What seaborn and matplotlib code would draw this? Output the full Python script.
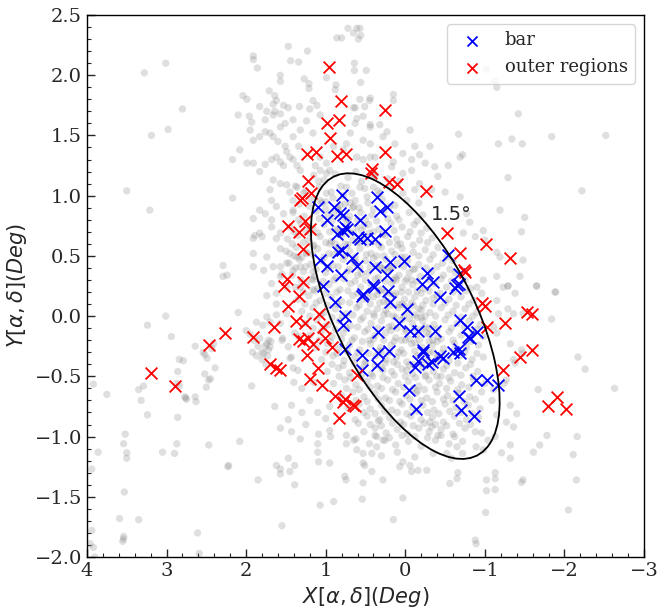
import numpy as np
import pandas as pd
import matplotlib
matplotlib.use("Agg")
import matplotlib.pyplot as plt
from matplotlib.patches import Ellipse
from matplotlib.ticker import MultipleLocator
import seaborn as sns

# ---------------- data (degrees) ----------------
bar_pts = [
    (0.80, 1.005), (0.36, 0.99), (1.10, 0.91), (0.90, 0.905), (0.82, 0.86), (0.78, 0.84),
    (0.23, 0.91), (0.32, 0.87), (0.99, 0.80), (0.76, 0.74), (0.73, 0.72), (0.78, 0.71),
    (0.57, 0.80), (0.86, 0.68), (0.59, 0.66), (0.57, 0.64), (0.48, 0.65), (0.38, 0.64),
    (0.26, 0.71), (0.85, 0.53), (0.80, 0.55), (0.67, 0.48), (1.07, 0.465), (0.99, 0.42),
    (0.61, 0.42), (0.38, 0.41), (0.19, 0.45), (0.81, 0.34), (0.23, 0.34), (1.03, 0.25),
    (0.40, 0.26), (0.39, 0.24), (0.22, 0.21), (0.55, 0.17), (0.53, 0.18), (0.88, 0.12),
    (0.19, 0.12), (0.02, 0.46), (-0.54, 0.51), (-0.27, 0.36), (-0.21, 0.27), (-0.35, 0.28),
    (-0.67, 0.35), (-0.65, 0.26), (-0.62, 0.23), (-0.67, 0.27), (-0.43, 0.16), (-0.02, 0.06),
    (0.08, -0.06), (0.34, -0.13), (-0.06, -0.12), (-0.16, -0.12), (-0.37, -0.12), (-0.69, -0.03),
    (-0.77, -0.09), (-0.90, -0.13), (-0.81, -0.18), (-0.79, -0.17), (-0.22, -0.28), (-0.22, -0.30),
    (-0.16, -0.37), (-0.12, -0.42), (-0.29, -0.40), (-0.33, -0.38), (-0.48, -0.35), (-0.44, -0.33),
    (-0.60, -0.30), (-0.67, -0.27), (-0.69, -0.31), (-0.89, -0.53), (-1.03, -0.53), (-1.16, -0.57),
    (-0.05, -0.61), (-0.67, -0.66), (-0.13, -0.77), (-0.70, -0.78), (-0.86, -0.83), (0.21, -0.29),
    (0.34, -0.31), (0.36, -0.41), (0.54, -0.32), (0.54, -0.45), (0.76, 0.0), (0.78, -0.075),
    (0.76, -0.27),
]

outer_pts = [
    (0.96, 2.07), (0.81, 1.79), (0.99, 1.60), (0.83, 1.63), (0.95, 1.48), (1.24, 1.35),
    (1.12, 1.36), (0.86, 1.33), (0.74, 1.35), (0.42, 1.22), (0.43, 1.19), (1.22, 1.12),
    (1.18, 1.02), (1.32, 0.96), (1.30, 0.98), (1.26, 0.79), (1.48, 0.75), (1.34, 0.70),
    (1.20, 0.72), (1.29, 0.56), (1.49, 0.305), (1.52, 0.25), (1.28, 0.285), (1.33, 0.17),
    (0.26, 1.71), (0.255, 1.36), (0.20, 1.11), (0.11, 1.10), (-0.26, 1.04), (-0.53, 0.69),
    (-0.69, 0.52), (-1.02, 0.60), (-1.31, 0.48), (-0.74, 0.385), (-0.75, 0.37), (-0.96, 0.105),
    (-1.00, 0.08), (-1.03, -0.09), (-1.25, -0.06), (-1.53, 0.036), (-1.59, 0.02), (-1.59, -0.28),
    (-1.44, -0.34), (-1.23, -0.45), (0.63, -0.75), (0.66, -0.74), (0.61, -0.49), (-1.79, -0.75),
    (-1.91, -0.675), (-2.02, -0.77), (1.48, 0.08), (1.09, 0.02), (1.37, -0.04), (1.26, -0.06),
    (1.65, -0.09), (2.27, -0.14), (1.92, -0.17), (2.47, -0.24), (1.03, -0.09), (1.34, -0.19),
    (1.29, -0.21), (1.22, -0.18), (1.16, -0.23), (1.01, -0.18), (0.92, -0.26), (1.23, -0.32),
    (3.20, -0.47), (2.89, -0.58), (1.70, -0.40), (1.62, -0.43), (1.58, -0.45), (1.10, -0.43),
    (1.20, -0.52), (1.05, -0.57), (0.88, -0.66), (0.78, -0.71), (0.76, -0.69), (0.83, -0.85),
]

# sparse field stars (individually readable)
field_sparse = [
    (3.28, 2.02), (3.01, 2.10), (2.80, 1.72), (2.98, 1.55), (3.19, 1.50), (3.50, 1.04), (3.21, 0.88),
    (2.17, 0.98), (2.17, 1.30), (1.47, 2.24), (1.23, 2.20), (1.91, 2.16), (1.91, 2.13), (1.86, 2.06),
    (1.44, 2.12), (1.34, 2.11), (1.57, 2.00), (1.57, 1.95), (1.27, 1.97), (1.21, 1.93), (1.21, 1.89),
    (0.87, 1.92), (0.88, 1.88), (0.99, 1.98), (0.72, 2.39), (0.61, 2.39), (0.57, 2.39), (0.65, 2.35),
    (0.56, 2.33), (0.59, 2.30), (0.86, 2.31), (0.80, 2.31), (0.64, 2.10), (0.64, 2.04), (0.49, 2.04),
    (0.56, 1.94), (0.44, 1.81), (0.57, 1.80), (0.65, 1.73), (2.04, 1.83), (1.99, 1.80), (2.10, 1.67),
    (1.96, 1.66), (1.93, 1.61), (1.83, 1.74), (1.71, 1.87), (1.64, 1.83), (1.62, 1.79), (1.53, 1.75),
    (1.74, 1.70), (1.66, 1.76), (1.64, 1.70), (1.57, 1.68), (1.47, 1.73), (1.76, 1.63), (1.66, 1.67),
    (1.51, 1.60), (1.41, 1.63), (1.33, 1.74), (1.20, 1.72), (1.16, 1.79), (1.11, 1.75), (1.07, 1.67),
    (1.24, 1.62), (1.32, 1.545), (1.16, 1.52), (1.95, 1.545), (1.83, 1.49), (1.91, 1.46), (1.76, 1.53),
    (1.70, 1.52), (1.66, 1.49), (1.57, 1.57), (1.60, 1.45), (1.51, 1.41), (1.41, 1.49), (1.34, 1.41),
    (1.49, 1.365), (1.45, 1.32), (2.08, 1.38), (1.99, 1.27), (1.91, 1.27), (1.83, 1.20), (1.76, 1.26),
    (1.68, 1.30), (1.62, 1.32), (1.57, 1.28), (1.53, 1.25), (1.41, 1.30), (1.36, 1.25), (1.32, 1.21),
    (1.13, 1.25), (1.07, 1.21), (0.99, 1.27), (1.07, 1.32), (0.90, 1.41), (0.74, 1.43), (0.78, 1.38),
    (0.61, 1.32), (0.53, 1.30), (0.44, 1.32), (0.63, 1.60), (0.44, 1.57), (0.69, 1.52), (0.53, 1.46),
    (1.66, 1.13), (1.57, 1.10), (1.70, 1.05), (1.49, 1.09), (1.45, 1.03), (1.68, 0.96), (1.62, 0.91),
    (1.76, 0.85), (1.68, 0.80), (1.83, 0.88), (1.91, 0.81), (1.83, 0.69), (1.91, 0.645), (1.89, 0.67),
    (1.68, 0.74), (1.57, 0.69), (1.62, 0.645), (1.53, 0.85), (1.41, 0.88), (1.36, 1.07), (1.28, 1.02),
    (1.41, 0.96), (1.07, 0.96), (0.99, 1.02), (1.09, 1.12), (0.99, 1.185), (0.74, 1.07), (0.69, 0.94),
    (0.65, 0.91), (0.57, 1.07), (0.48, 0.99), (0.40, 1.16), (0.40, 1.07), (0.32, 1.02), (1.57, 0.56),
    (1.45, 0.52), (1.49, 0.44), (1.74, 0.49), (1.66, 0.41), (1.91, 0.52), (1.80, 0.66), (1.91, 0.41),
    (1.78, 0.38), (1.57, 0.33), (1.49, 0.24), (1.68, 0.27), (1.62, 0.19), (1.74, 0.17), (1.41, 0.38),
    (1.32, 0.41), (1.36, 0.49), (1.24, 0.52), (1.16, 0.58), (1.20, 0.69), (2.29, 0.42), (2.24, 0.34),
    (2.29, 0.33), (1.57, 0.41), (1.32, 0.24), (1.16, 0.22), (1.16, 0.37), (1.16, 0.30),
    (-1.02, 2.05), (-1.13, 1.95), (-1.15, 1.90), (0.15, 1.84), (-1.42, 1.68), (-0.67, 1.51),
    (-1.84, 1.49), (-2.52, 1.50), (-1.17, 1.43), (-1.34, 1.47), (-1.47, 1.43), (-0.69, 1.32),
    (-0.72, 1.34), (-0.54, 1.25), (-0.31, 1.41), (-0.12, 1.41), (-0.18, 1.34), (-0.08, 1.30),
    (0.15, 1.28), (0.17, 1.24), (0.03, 1.185), (-0.08, 1.21), (-0.25, 1.27), (-0.37, 1.24),
    (-0.41, 1.16), (-0.18, 1.10), (-0.33, 1.05), (-0.50, 1.03), (-0.69, 0.99), (-1.29, 1.15),
    (-2.22, 1.04), (-1.19, 0.88), (-1.50, 0.82), (-1.46, 0.70), (-0.77, 0.85), (-0.81, 0.78),
    (-0.73, 0.69), (-0.88, 0.66), (-0.98, 0.71), (-1.00, 0.63), (-1.15, 0.53), (-1.19, 0.49),
    (-1.48, 0.465), (-1.65, 0.25), (-1.89, 0.20), (-1.15, 0.33), (-1.29, 0.25), (-1.44, 0.33),
    (-0.98, 0.30), (-0.90, 0.24), (-0.96, 0.19), (0.13, 1.43), (0.28, 1.49), (0.44, 1.43),
    (0.38, 1.32), (0.44, 1.59), (0.32, 1.59), (0.61, 1.64), (0.53, 1.66), (0.63, 1.73),
    (0.51, 1.74), (0.45, 1.79), (0.15, 1.79), (-0.06, 1.545), (0.23, 1.53), (0.03, 1.35),
    (3.92, -0.565), (3.75, -0.65), (3.35, -0.61), (3.29, -0.58), (3.32, -0.70), (3.24, -0.82),
    (3.01, 0.0), (3.24, -0.075), (2.94, -0.17), (2.64, -0.25), (2.84, -0.36), (2.79, -0.37),
    (2.86, -0.46), (2.87, -0.56), (2.84, -0.58), (2.77, -0.67), (2.75, -0.69), (2.76, -0.68),
    (2.64, -0.67), (2.63, -0.71), (2.86, -0.84), (2.54, -0.30), (2.49, -0.35), (2.52, -0.32),
    (2.41, -0.23), (2.43, -0.27), (2.52, -0.48), (2.45, -0.52), (2.47, -0.53), (2.50, -0.59),
    (2.39, -0.43), (2.10, 0.03), (1.93, -0.58), (1.87, -0.33), (1.80, -0.30), (1.76, -0.25),
    (1.74, -0.23), (1.72, -0.28), (1.70, -0.255), (1.69, -0.21), (1.79, -0.075), (1.74, -0.006),
    (1.87, -0.05), (1.62, 0.01), (1.49, 0.02), (1.57, -0.06), (1.83, -0.185), (1.54, -0.185),
    (1.47, -0.255), (1.39, -0.14), (1.34, -0.17), (1.43, -0.34), (1.41, -0.43), (1.64, -0.75),
    (1.43, -0.74), (1.47, -0.86), (1.57, -0.93), (1.43, -0.96), (1.32, -1.02), (1.09, -0.98),
    (1.10, -1.06), (0.95, -0.95), (0.94, -1.00), (0.74, -0.99), (0.74, -1.06), (0.62, -1.02),
    (2.08, -1.04), (2.47, -1.07), (2.87, -1.06), (2.90, -1.14), (3.05, -1.13), (3.52, -0.98),
    (3.54, -1.06), (3.50, -1.135), (3.50, -1.18), (3.86, -1.13), (3.94, -1.27), (2.23, -1.25),
    (2.22, -1.24), (1.85, -1.36), (1.57, -1.27), (1.57, -1.31), (1.62, -1.24), (1.47, -1.18),
    (1.39, -1.24), (1.45, -1.29), (1.39, -1.40), (1.09, -1.21), (1.10, -1.13), (1.07, -1.57),
    (0.90, -1.54), (0.95, -1.22), (0.76, -1.33), (0.745, -1.36), (0.53, -1.22), (0.51, -1.24),
    (0.53, -1.385), (0.54, -1.52), (3.53, -1.46), (3.59, -1.68), (3.35, -1.69), (3.54, -1.83),
    (3.55, -1.87), (3.54, -1.85), (3.94, -1.78), (3.96, -1.89), (3.92, -1.92), (3.90, -2.00),
    (2.61, -1.80), (2.59, -1.97), (1.55, -1.74),
    (-1.65, 0.25), (-1.88, 0.20), (-1.84, -0.025), (-2.17, -0.34), (-2.26, -0.44), (-2.63, -0.60),
    (-1.67, -0.61), (-1.78, -0.99), (-1.69, -1.07), (-1.61, -1.13), (-2.16, -1.00), (-2.11, -1.15),
    (-2.15, -1.36), (-2.05, -1.61), (-1.48, -1.36), (-1.46, -1.38), (-1.32, -1.07), (-1.32, -1.18),
    (-1.21, -1.135), (-1.13, -1.30), (-1.13, -1.35), (-1.13, -1.44), (-1.02, -1.36), (-1.02, -1.45),
    (-1.01, -1.63), (-0.88, -1.86), (-0.89, -1.89), (-0.66, -1.30), (-0.65, -1.35), (-0.56, -1.39),
    (0.03, -1.51), (0.15, -1.69), (-0.08, -1.29), (-0.06, -1.24), (-0.16, -1.28), (-0.27, -1.28),
    (0.07, -1.25), (0.03, -1.21), (0.28, -1.36), (0.42, -1.29), (0.53, -1.14), (0.42, -1.14),
    (0.36, -1.085), (0.65, -1.03), (0.61, -1.11), (0.38, -0.99), (0.255, -1.03), (0.59, -0.89),
    (0.32, -0.86), (-0.33, -0.92), (-0.31, -0.88), (-0.41, -0.99), (-1.04, -1.03), (-1.13, -1.00),
    (-1.32, -0.74), (-1.40, -0.81), (-1.27, -0.88), (-1.36, -0.92), (-0.89, -1.085), (-0.98, -1.11),
    (-0.65, -1.085), (-0.72, -1.14), (-0.52, -1.14), (-0.96, -0.97), (-1.15, -0.82), (-1.09, -0.70),
    (-1.11, -0.61), (-1.24, -0.56), (-1.27, -0.53), (-1.36, -0.36), (-1.38, -0.39), (-1.32, -0.23),
    (-1.48, 0.02), (-1.29, 0.06), (-1.36, 0.02), (-1.23, 0.24), (-1.29, 0.25), (-1.38, 0.19),
    (-1.15, 0.13), (-1.17, 0.02), (-1.46, -0.28), (-1.47, -0.31), (-1.11, -0.09), (-1.15, -0.14),
    (1.95, -0.15), (1.90, -0.20), (1.85, -0.25), (1.80, -0.36), (1.75, -0.40), (1.72, -0.20),
    (2.00, -0.12), (1.92, -0.30), (1.78, -0.31), (1.73, -0.33),
    (1.55, 0.35), (1.62, 0.10), (1.70, -0.05), (1.55, -0.20), (1.45, -0.35), (1.35, -0.45),
    (1.30, -0.60), (1.20, -0.70), (1.10, -0.80), (1.00, -0.85), (0.95, -0.75), (1.15, -0.55),
    (1.40, -0.55), (1.30, -0.80), (1.25, -0.90),
]

# dense field stars in the central body (approximate positions read by eye)
field_dense = [
    (1.15, 1.17), (1.02, 1.13), (0.88, 1.18), (0.72, 1.15), (0.55, 1.12), (0.38, 1.17), (0.22, 1.14),
    (0.08, 1.12), (0.95, 1.21), (0.62, 1.20),
    (1.25, 1.04), (1.08, 1.07), (0.93, 1.03), (0.81, 1.08), (0.67, 1.02), (0.51, 1.06), (0.34, 1.04),
    (0.18, 1.07), (0.03, 1.02), (-0.12, 1.05), (1.38, 1.08),
    (1.33, 0.93), (1.19, 0.97), (1.05, 0.94), (0.91, 0.98), (0.76, 0.93), (0.63, 0.96), (0.47, 0.94),
    (0.29, 0.97), (0.13, 0.92), (-0.02, 0.96), (-0.17, 0.94), (0.85, 0.90),
    (1.41, 0.86), (1.27, 0.83), (1.12, 0.87), (0.97, 0.84), (0.84, 0.88), (0.70, 0.83), (0.56, 0.86),
    (0.42, 0.84), (0.27, 0.87), (0.11, 0.83), (-0.05, 0.86), (-0.22, 0.84), (0.60, 0.80),
    (1.45, 0.74), (1.31, 0.77), (1.16, 0.73), (1.02, 0.76), (0.88, 0.72), (0.74, 0.77), (0.61, 0.74),
    (0.46, 0.76), (0.33, 0.72), (0.18, 0.77), (0.04, 0.74), (-0.11, 0.76), (-0.27, 0.73), (0.95, 0.70),
    (1.48, 0.64), (1.35, 0.67), (1.21, 0.63), (1.07, 0.66), (0.93, 0.62), (0.80, 0.67), (0.66, 0.63),
    (0.52, 0.66), (0.39, 0.62), (0.25, 0.67), (0.11, 0.64), (-0.03, 0.66), (-0.18, 0.63), (-0.34, 0.65),
    (0.45, 0.69),
    (1.50, 0.54), (1.37, 0.57), (1.24, 0.53), (1.10, 0.56), (0.96, 0.52), (0.83, 0.57), (0.70, 0.54),
    (0.57, 0.56), (0.43, 0.52), (0.30, 0.57), (0.17, 0.54), (0.04, 0.56), (-0.10, 0.53), (-0.25, 0.55),
    (-0.41, 0.57), (0.36, 0.50), (0.10, 0.59),
    (1.46, 0.44), (1.33, 0.47), (1.19, 0.43), (1.05, 0.46), (0.91, 0.42), (0.78, 0.47), (0.64, 0.44),
    (0.50, 0.46), (0.37, 0.42), (0.24, 0.47), (0.10, 0.44), (-0.03, 0.46), (-0.17, 0.43), (-0.31, 0.47),
    (-0.47, 0.44), (0.30, 0.40), (0.05, 0.49), (-0.60, 0.46),
    (1.42, 0.34), (1.28, 0.37), (1.14, 0.33), (1.00, 0.36), (0.87, 0.32), (0.73, 0.37), (0.60, 0.34),
    (0.47, 0.36), (0.34, 0.32), (0.21, 0.37), (0.08, 0.34), (-0.05, 0.36), (-0.19, 0.33), (-0.33, 0.37),
    (-0.48, 0.34), (-0.63, 0.36), (0.15, 0.30), (-0.10, 0.39),
    (1.38, 0.24), (1.24, 0.27), (1.10, 0.23), (0.96, 0.26), (0.82, 0.22), (0.69, 0.27), (0.56, 0.24),
    (0.43, 0.26), (0.30, 0.22), (0.17, 0.27), (0.04, 0.24), (-0.09, 0.26), (-0.23, 0.23), (-0.37, 0.27),
    (-0.52, 0.24), (-0.68, 0.26), (-0.82, 0.23), (0.25, 0.20), (0.00, 0.29), (-0.15, 0.21),
    (1.35, 0.14), (1.21, 0.17), (1.07, 0.13), (0.93, 0.16), (0.80, 0.12), (0.66, 0.17), (0.53, 0.14),
    (0.40, 0.16), (0.27, 0.12), (0.14, 0.17), (0.01, 0.14), (-0.12, 0.16), (-0.26, 0.13), (-0.40, 0.17),
    (-0.55, 0.14), (-0.70, 0.16), (-0.86, 0.13), (0.08, 0.10), (-0.20, 0.19), (0.20, 0.19),
    (1.30, 0.04), (1.16, 0.07), (1.02, 0.03), (0.88, 0.06), (0.74, 0.02), (0.61, 0.07), (0.48, 0.04),
    (0.35, 0.06), (0.22, 0.02), (0.09, 0.07), (-0.04, 0.04), (-0.17, 0.06), (-0.31, 0.03), (-0.45, 0.07),
    (-0.60, 0.04), (-0.75, 0.06), (-0.90, 0.03), (0.15, 0.00), (-0.10, 0.09), (-0.25, 0.00),
    (1.25, -0.06), (1.11, -0.03), (0.97, -0.07), (0.83, -0.04), (0.69, -0.08), (0.56, -0.03),
    (0.43, -0.06), (0.30, -0.04), (0.17, -0.08), (0.04, -0.03), (-0.09, -0.06), (-0.22, -0.04),
    (-0.36, -0.07), (-0.50, -0.03), (-0.65, -0.06), (-0.80, -0.04), (-0.94, -0.07), (0.10, -0.10),
    (-0.15, -0.01), (-0.30, -0.10),
    (1.20, -0.16), (1.06, -0.13), (0.92, -0.17), (0.78, -0.14), (0.64, -0.18), (0.51, -0.13),
    (0.38, -0.16), (0.25, -0.14), (0.12, -0.18), (-0.01, -0.13), (-0.14, -0.16), (-0.27, -0.14),
    (-0.41, -0.17), (-0.55, -0.13), (-0.70, -0.16), (-0.85, -0.14), (-0.98, -0.17), (0.05, -0.20),
    (-0.20, -0.11), (-0.35, -0.20),
    (1.12, -0.26), (0.98, -0.23), (0.84, -0.27), (0.70, -0.24), (0.57, -0.28), (0.44, -0.23),
    (0.31, -0.26), (0.18, -0.24), (0.05, -0.28), (-0.08, -0.23), (-0.21, -0.26), (-0.34, -0.24),
    (-0.48, -0.27), (-0.62, -0.23), (-0.77, -0.26), (-0.92, -0.24), (-0.25, -0.30), (0.00, -0.20),
    (-0.40, -0.21),
    (1.05, -0.36), (0.91, -0.33), (0.77, -0.37), (0.63, -0.34), (0.50, -0.38), (0.37, -0.33),
    (0.24, -0.36), (0.11, -0.34), (-0.02, -0.38), (-0.15, -0.33), (-0.28, -0.36), (-0.41, -0.34),
    (-0.55, -0.37), (-0.69, -0.33), (-0.84, -0.36), (-0.98, -0.34), (-0.10, -0.40), (-0.35, -0.30),
    (0.98, -0.46), (0.84, -0.43), (0.70, -0.47), (0.56, -0.44), (0.43, -0.48), (0.30, -0.43),
    (0.17, -0.46), (0.04, -0.44), (-0.09, -0.48), (-0.22, -0.43), (-0.35, -0.46), (-0.48, -0.44),
    (-0.62, -0.47), (-0.76, -0.43), (-0.91, -0.46), (-0.45, -0.50),
    (0.90, -0.56), (0.76, -0.53), (0.62, -0.57), (0.48, -0.54), (0.35, -0.58), (0.22, -0.53),
    (0.09, -0.56), (-0.04, -0.54), (-0.17, -0.58), (-0.30, -0.53), (-0.43, -0.56), (-0.57, -0.54),
    (-0.71, -0.57), (-0.86, -0.53), (-1.00, -0.56),
    (0.80, -0.66), (0.66, -0.63), (0.52, -0.67), (0.38, -0.64), (0.25, -0.68), (0.12, -0.63),
    (-0.01, -0.66), (-0.14, -0.64), (-0.27, -0.68), (-0.40, -0.63), (-0.53, -0.66), (-0.67, -0.64),
    (-0.81, -0.67), (-0.96, -0.63),
    (0.72, -0.76), (0.58, -0.73), (0.44, -0.77), (0.30, -0.74), (0.17, -0.78), (0.04, -0.73),
    (-0.09, -0.76), (-0.22, -0.74), (-0.36, -0.78), (-0.50, -0.73), (-0.64, -0.76), (-0.79, -0.74),
    (-0.94, -0.77),
    (0.63, -0.86), (0.48, -0.83), (0.34, -0.87), (0.20, -0.84), (0.06, -0.88), (-0.07, -0.83),
    (-0.20, -0.86), (-0.34, -0.84), (-0.48, -0.88), (-0.62, -0.83), (-0.77, -0.86), (-0.92, -0.84),
    (0.52, -0.96), (0.38, -0.93), (0.24, -0.97), (0.10, -0.94), (-0.03, -0.98), (-0.17, -0.93),
    (-0.30, -0.96), (-0.45, -0.94), (-0.60, -0.98), (-0.75, -0.93), (-0.88, -0.96),
    (0.45, -1.06), (0.28, -1.03), (0.12, -1.07), (-0.04, -1.04), (-0.20, -1.08), (-0.38, -1.03),
    (-0.55, -1.06), (-0.72, -1.04),
    (0.30, -1.16), (0.10, -1.13), (-0.12, -1.17), (-0.35, -1.14), (-0.58, -1.18),
    (0.25, 0.05), (0.18, -0.12), (0.05, 0.20), (-0.05, -0.02), (0.30, -0.30), (0.12, 0.32),
    (-0.12, -0.22), (0.22, 0.12), (0.00, 0.08), (0.35, 0.18), (-0.20, 0.05), (0.08, -0.30),
    (0.28, -0.45), (0.15, -0.38), (-0.02, -0.45), (0.40, 0.02), (0.45, -0.20), (0.20, 0.40),
    (-0.08, 0.30), (0.32, 0.42), (0.60, 0.62), (0.72, 0.80), (0.80, 0.70), (0.66, 0.90),
    (0.85, 0.55), (0.52, 0.75), (0.90, 0.85), (0.75, 0.60), (0.62, 0.45), (0.95, 0.60),
    (1.00, 0.95), (0.78, 1.00), (0.70, 0.70), (0.55, 0.35), (0.48, 0.15), (-0.30, -0.15),
    (-0.40, -0.35), (-0.25, -0.50), (-0.15, -0.62), (-0.35, 0.15),
]

# second layer of the dense body (read between the first layer's positions)
field_core = [
    (1.20, 0.91), (1.00, 0.89), (0.82, 0.92), (0.58, 0.90), (0.40, 0.89), (0.20, 0.91),
    (1.34, 0.80), (1.08, 0.81), (0.92, 0.79), (0.78, 0.82), (0.50, 0.80), (0.36, 0.79),
    (0.22, 0.81), (0.08, 0.80), (-0.15, 0.79),
    (1.40, 0.70), (1.25, 0.71), (1.10, 0.69), (0.85, 0.71), (0.65, 0.69), (0.55, 0.71),
    (0.40, 0.70), (0.28, 0.68), (0.14, 0.71), (-0.06, 0.70), (-0.20, 0.69),
    (1.42, 0.60), (1.28, 0.61), (1.15, 0.59), (1.00, 0.61), (0.88, 0.60), (0.72, 0.59),
    (0.59, 0.61), (0.48, 0.60), (0.33, 0.59), (0.20, 0.61), (0.06, 0.60), (-0.10, 0.59),
    (-0.28, 0.61),
    (1.40, 0.50), (1.30, 0.49), (1.16, 0.51), (1.02, 0.49), (0.90, 0.51), (0.76, 0.50),
    (0.63, 0.49), (0.49, 0.51), (0.40, 0.48), (0.27, 0.50), (0.13, 0.51), (0.00, 0.49),
    (-0.17, 0.50), (-0.35, 0.51), (-0.52, 0.49),
    (1.38, 0.40), (1.25, 0.41), (1.12, 0.39), (0.97, 0.40), (0.84, 0.41), (0.70, 0.39),
    (0.57, 0.40), (0.44, 0.41), (0.27, 0.39), (0.17, 0.40), (0.02, 0.41), (-0.12, 0.39),
    (-0.26, 0.40), (-0.40, 0.41), (-0.56, 0.39),
    (1.31, 0.30), (1.17, 0.31), (1.03, 0.29), (0.90, 0.30), (0.77, 0.31), (0.63, 0.29),
    (0.50, 0.30), (0.38, 0.31), (0.25, 0.29), (0.11, 0.30), (-0.02, 0.31), (-0.15, 0.29),
    (-0.30, 0.30), (-0.45, 0.31), (-0.58, 0.29), (-0.75, 0.30),
    (1.28, 0.20), (1.14, 0.21), (1.00, 0.19), (0.86, 0.20), (0.72, 0.21), (0.60, 0.19),
    (0.46, 0.20), (0.33, 0.21), (0.12, 0.19), (-0.04, 0.20), (-0.30, 0.21), (-0.44, 0.19),
    (-0.60, 0.20), (-0.76, 0.21),
    (1.26, 0.10), (1.12, 0.11), (0.98, 0.09), (0.85, 0.10), (0.70, 0.11), (0.58, 0.09),
    (0.44, 0.10), (0.32, 0.11), (0.18, 0.09), (0.04, 0.10), (-0.08, 0.11), (-0.22, 0.09),
    (-0.35, 0.10), (-0.50, 0.11), (-0.64, 0.09), (-0.80, 0.10),
    (1.20, 0.00), (1.06, 0.01), (0.92, -0.01), (0.79, 0.00), (0.66, 0.01), (0.53, -0.01),
    (0.39, 0.00), (0.27, 0.01), (0.12, -0.01), (0.02, 0.00), (-0.12, 0.01), (-0.20, -0.01),
    (-0.38, 0.00), (-0.54, 0.01), (-0.70, -0.01), (-0.85, 0.00),
    (1.16, -0.10), (1.02, -0.09), (0.88, -0.11), (0.74, -0.10), (0.60, -0.09), (0.47, -0.11),
    (0.34, -0.10), (0.21, -0.09), (0.00, -0.11), (-0.12, -0.10), (-0.25, -0.09), (-0.40, -0.11),
    (-0.58, -0.10), (-0.74, -0.09), (-0.90, -0.11),
    (1.08, -0.20), (0.94, -0.21), (0.80, -0.19), (0.67, -0.20), (0.54, -0.21), (0.40, -0.19),
    (0.27, -0.20), (0.14, -0.21), (-0.05, -0.19), (-0.18, -0.20), (-0.30, -0.21), (-0.45, -0.19),
    (-0.60, -0.20), (-0.82, -0.21),
    (1.00, -0.30), (0.86, -0.31), (0.73, -0.29), (0.60, -0.30), (0.46, -0.31), (0.33, -0.29),
    (0.20, -0.30), (0.02, -0.31), (-0.12, -0.29), (-0.30, -0.30), (-0.46, -0.31), (-0.60, -0.29),
    (-0.75, -0.30), (-0.90, -0.31),
    (0.92, -0.40), (0.78, -0.41), (0.64, -0.39), (0.51, -0.40), (0.38, -0.41), (0.25, -0.39),
    (0.10, -0.40), (-0.05, -0.41), (-0.20, -0.39), (-0.38, -0.40), (-0.52, -0.41), (-0.66, -0.39),
    (-0.82, -0.40),
    (0.83, -0.50), (0.69, -0.51), (0.55, -0.49), (0.41, -0.50), (0.28, -0.51), (0.14, -0.49),
    (0.00, -0.50), (-0.13, -0.51), (-0.26, -0.49), (-0.40, -0.50), (-0.55, -0.51), (-0.70, -0.49),
    (-0.85, -0.50),
    (0.74, -0.60), (0.58, -0.61), (0.44, -0.59), (0.30, -0.60), (0.16, -0.61), (0.02, -0.59),
    (-0.10, -0.60), (-0.24, -0.61), (-0.38, -0.59), (-0.52, -0.60), (-0.66, -0.61), (-0.80, -0.59),
    (0.62, -0.70), (0.48, -0.71), (0.34, -0.69), (0.20, -0.70), (0.07, -0.71), (-0.06, -0.69),
    (-0.20, -0.70), (-0.34, -0.71), (-0.48, -0.69), (-0.60, -0.70), (-0.74, -0.71), (-0.88, -0.69),
    (0.52, -0.80), (0.38, -0.81), (0.26, -0.79), (0.10, -0.80), (-0.02, -0.81), (-0.15, -0.79),
    (-0.28, -0.80), (-0.42, -0.81), (-0.56, -0.79), (-0.70, -0.80), (-0.84, -0.81),
    (0.44, -0.90), (0.30, -0.91), (0.16, -0.89), (0.02, -0.90), (-0.10, -0.91), (-0.24, -0.89),
    (-0.38, -0.90), (-0.52, -0.91), (-0.68, -0.89), (-0.82, -0.90),
    (0.36, -1.00), (0.20, -1.01), (0.04, -0.99), (-0.12, -1.00), (-0.28, -1.01), (-0.45, -0.99),
    (-0.62, -1.00),
]

ellipse_center = (0.0, 0.0)
ellipse_width = 3.0
ellipse_height = 1.5
ellipse_angle = 45
ellipse_label = "1.5°"

# ---------------- frames ----------------
bar_df = pd.DataFrame(bar_pts, columns=["x", "y"])
outer_df = pd.DataFrame(outer_pts, columns=["x", "y"])
field_df = pd.DataFrame(field_sparse + field_dense + field_core, columns=["x", "y"])

sns.set_style("ticks")
plt.rcParams["font.family"] = ["DejaVu Serif"]
plt.rcParams["mathtext.fontset"] = "dejavusans"

fig = plt.figure(figsize=(6.66, 6.15), dpi=100)
ax = fig.add_axes([0.1306, 0.0943, 0.8364, 0.8813])

sns.scatterplot(data=field_df, x="x", y="y", ax=ax, color="gray", alpha=0.25,
                s=28, edgecolor="none", legend=False, zorder=1)
sns.scatterplot(data=bar_df, x="x", y="y", ax=ax, color="blue", marker="x",
                s=72, linewidth=1.3, label="bar", zorder=3)
sns.scatterplot(data=outer_df, x="x", y="y", ax=ax, color="red", marker="x",
                s=72, linewidth=1.3, label="outer regions", zorder=3)

ax.add_patch(Ellipse(ellipse_center, ellipse_width, ellipse_height, angle=ellipse_angle,
                     fill=False, edgecolor="black", linewidth=1.3, zorder=4))
ax.text(-0.32, 0.80, ellipse_label, fontsize=14, family="DejaVu Sans", zorder=5)

ax.set_xlim(4, -3)
ax.set_ylim(-2.0, 2.5)
ax.xaxis.set_major_locator(MultipleLocator(1))
ax.xaxis.set_minor_locator(MultipleLocator(0.2))
ax.yaxis.set_major_locator(MultipleLocator(0.5))
ax.yaxis.set_minor_locator(MultipleLocator(0.1))
ax.tick_params(which="both", direction="in", top=False, right=False, labelsize=14)
ax.tick_params(which="major", length=6, width=1)
ax.tick_params(which="minor", length=3, width=0.8)
for sp in ax.spines.values():
    sp.set_color("black")
    sp.set_linewidth(1.0)

ax.set_xlabel(r"$X[\alpha,\delta](Deg)$", fontsize=15)
ax.set_ylabel(r"$Y[\alpha,\delta](Deg)$", fontsize=15)

ax.legend(loc="upper right", fontsize=13, frameon=True, markerscale=0.85)

fig.savefig("out.png", dpi=100)
